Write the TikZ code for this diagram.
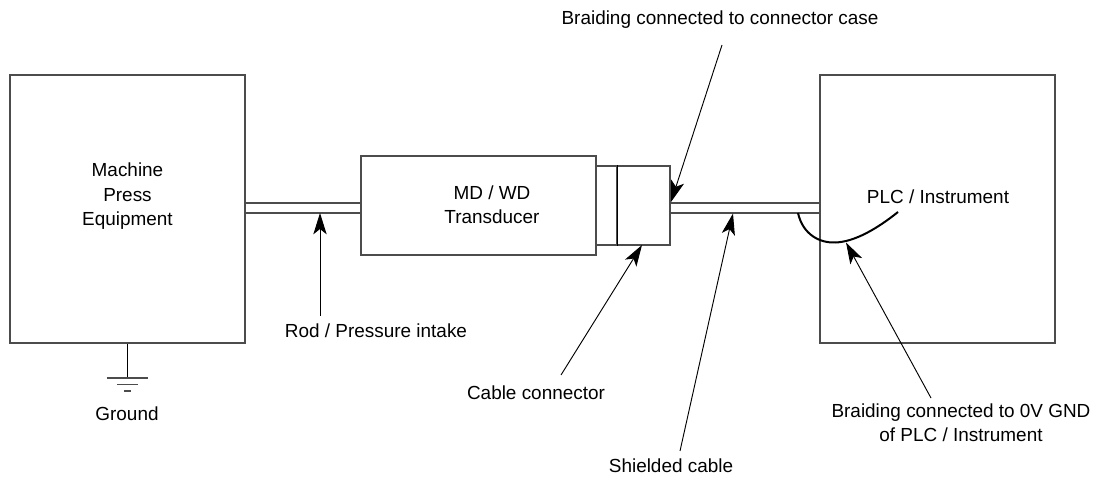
\documentclass[tikz,border=0pt]{standalone}
\usepackage{fontspec}
\setmainfont{Liberation Sans}
\usetikzlibrary{arrows.meta}

\begin{document}
\begin{tikzpicture}[
        x=0.75pt, y=-0.75pt,
        line width=0.9pt,
        every node/.style={draw=none, align=center, font=\fontsize{14.2}{18.3}\selectfont, inner sep=1pt},
        box/.style={draw=black!70, minimum width=#1*0.75pt, inner sep=0pt},
        rail/.style={draw=black!70},
        pointer/.style={-{Stealth[length=16pt, width=10pt, inset=4pt]}, line width=0.7pt}
    ]
        \useasboundingbox (0,0) rectangle (1096,477);

        % main blocks
        \node[box=235, minimum height=201pt] (machine) at (127.5,209) {};
        \node[box=235, minimum height=74.25pt] (transducer) at (478.5,205.5) {};
        \node[box=21, minimum height=59.25pt] (connleft) at (606.5,205.5) {};
        \node[box=53, minimum height=59.25pt] (connright) at (643.5,205.5) {};
        \node[box=235, minimum height=201pt] (plc) at (937.5,209) {};
        \draw[line width=1.3pt] (connleft.north east) -- (connleft.south east);

        % block texts
        \node (machinetext) at (127.5,196.5) {Machine\\Press\\Equipment};
        \node (transducertext) at (492,205) {MD / WD\\Transducer};
        \node (plctext) at (938,197) {PLC / Instrument};

        % labels
        \node (rodlabel) at (376,331) {Rod / Pressure intake};
        \node (groundlabel) at (127,414) {Ground};
        \node (caselabel) at (720,20) {Braiding connected to connector case};
        \node (connlabel) at (536,393) {Cable connector};
        \node (cablelabel) at (671,466) {Shielded cable};
        \node (gndlabel) at (961,423) {Braiding connected to 0V GND\\of PLC / Instrument};

        % rod and cable
        \coordinate (rodtop) at (245,203);
        \coordinate (rodbot) at (245,213);
        \coordinate (cabletop) at (670,203);
        \coordinate (cablebot) at (670,213);
        \draw[rail] (rodtop) -- (rodtop -| transducer.west);
        \draw[rail] (rodbot) -- (rodbot -| transducer.west);
        \draw[rail] (cabletop) -- (cabletop -| plc.west);
        \draw[rail] (cablebot) -- (cablebot -| plc.west);

        % ground symbol
        \coordinate (earth) at (127,378);
        \draw[line width=0.7pt] (machine.south -| earth) -- (earth);
        \draw[rail] (107,378) -- (148,378);
        \draw[rail] (117,384.5) -- (138,384.5);
        \draw[rail] (124,391) -- (131,391);

        % braiding wire
        \coordinate (wirestart) at (798,213);
        \coordinate (wireend) at (898,212);
        \draw[line width=1.5pt] (wirestart) .. controls (803,235) and (820,243) .. (835,242.5)
            .. controls (855,242) and (878,228) .. (wireend);

        % pointers
        \coordinate (rodtip) at (320,213);
        \coordinate (rodtail) at (320,316);
        \coordinate (casetip) at (671,202);
        \coordinate (casetail) at (722,45);
        \coordinate (conntip) at (642,245);
        \coordinate (conntail) at (561,375);
        \coordinate (cabletip) at (733,213.5);
        \coordinate (cabletail) at (680,451);
        \coordinate (gndtip) at (846,242.5);
        \coordinate (gndtail) at (931,398);
        \draw[pointer] (rodtail) -- (rodtip);
        \draw[pointer] (casetail) -- (casetip);
        \draw[pointer] (conntail) -- (conntip);
        \draw[pointer] (cabletail) -- (cabletip);
        \draw[pointer] (gndtail) -- (gndtip);
    \end{tikzpicture}
\end{document}
